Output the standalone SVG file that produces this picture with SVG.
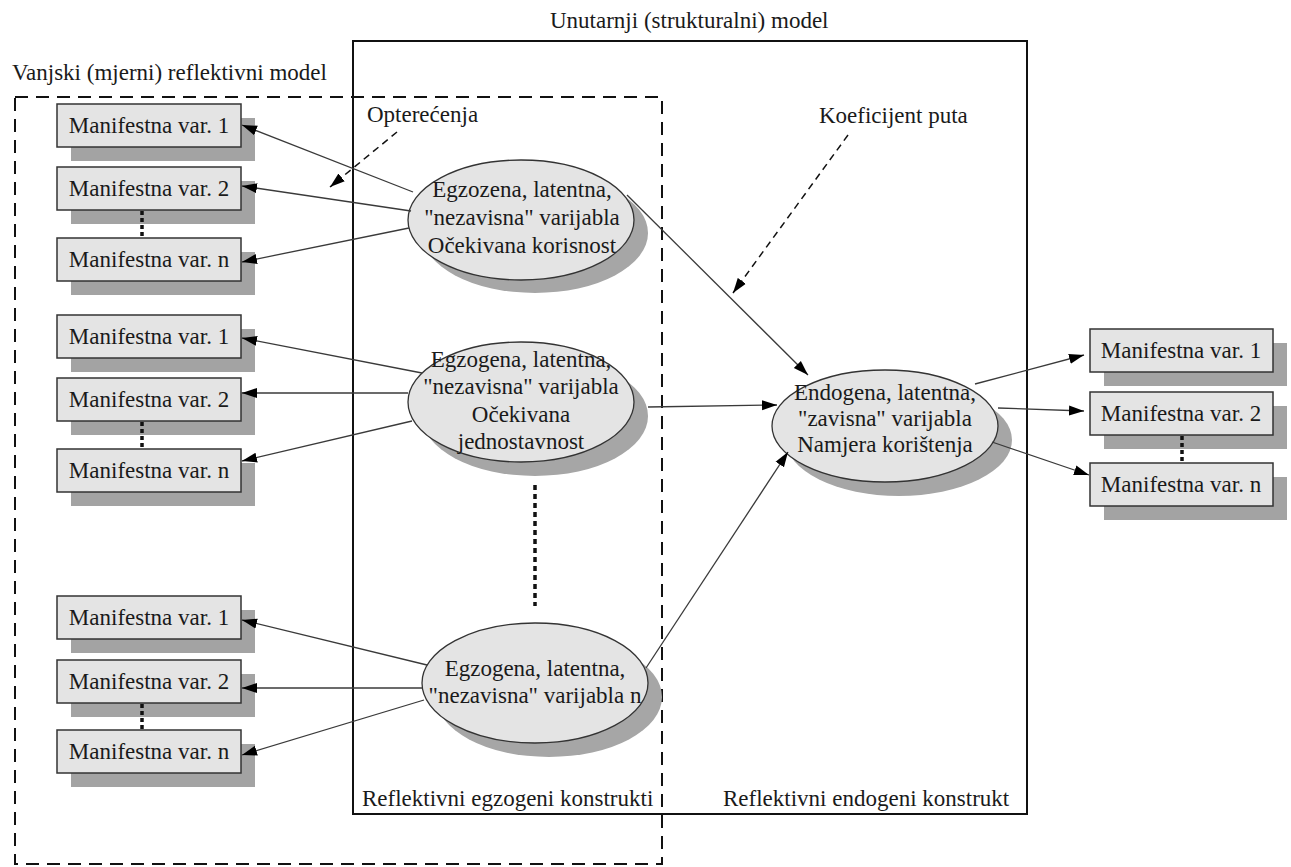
<svg xmlns="http://www.w3.org/2000/svg" width="1291" height="867" viewBox="0 0 1291 867">
<style>
text{font-family:"Liberation Serif","Times New Roman",serif;font-size:23px;fill:#1a1a1a}
.c{text-anchor:middle}
.box{fill:#e4e4e4;stroke:#333;stroke-width:1.5}
.bsh{fill:#a3a3a3}
.ell{fill:#e4e4e4;stroke:#333;stroke-width:1.3}
.esh{fill:#a6a6a6}
.frame{fill:none;stroke:#111;stroke-width:2}
.dframe{fill:none;stroke:#111;stroke-width:2;stroke-dasharray:13 8}
.conn{stroke:#3a3a3a;stroke-width:1.3;fill:none;marker-end:url(#ah)}
.dconn{stroke:#111;stroke-width:1.5;stroke-dasharray:7 5;fill:none;marker-end:url(#ah)}
.dots{stroke:#111;stroke-width:3.5;stroke-dasharray:4 3;fill:none}
</style>
<defs>
<marker id="ah" markerUnits="userSpaceOnUse" markerWidth="16" markerHeight="12" refX="15" refY="5" orient="auto" viewBox="0 0 16 10"><path d="M0,0 L15,5 L0,10 z" fill="#000"/></marker>
</defs>
<rect width="1291" height="867" fill="#fff"/>

<g id="frames">
<rect class="frame" x="353" y="41" width="674" height="773"/>
<rect class="dframe" x="15" y="97" width="647" height="767"/>
<text x="550" y="28">Unutarnji (strukturalni) model</text>
<text x="12" y="80">Vanjski (mjerni) reflektivni model</text>
<text x="367" y="122">Opterećenja</text>
<text x="819" y="123">Koeficijent puta</text>
<text x="362" y="806">Reflektivni egzogeni konstrukti</text>
<text x="723" y="806">Reflektivni endogeni konstrukt</text>
</g>

<g id="group1">
<rect class="bsh" x="71" y="118" width="184" height="43"/>
<rect class="box" x="57" y="104" width="184" height="43"/>
<text class="c" x="149" y="133">Manifestna var. 1</text>
<rect class="bsh" x="71" y="181" width="184" height="43"/>
<rect class="box" x="57" y="167" width="184" height="43"/>
<text class="c" x="149" y="196">Manifestna var. 2</text>
<rect class="bsh" x="71" y="252" width="184" height="43"/>
<rect class="box" x="57" y="238" width="184" height="43"/>
<text class="c" x="149" y="267">Manifestna var. n</text>
<line class="dots" x1="142" y1="211" x2="142" y2="238"/>
</g>

<g id="group2">
<rect class="bsh" x="71" y="329" width="184" height="43"/>
<rect class="box" x="57" y="315" width="184" height="43"/>
<text class="c" x="149" y="344">Manifestna var. 1</text>
<rect class="bsh" x="71" y="392" width="184" height="43"/>
<rect class="box" x="57" y="378" width="184" height="43"/>
<text class="c" x="149" y="407">Manifestna var. 2</text>
<rect class="bsh" x="71" y="463" width="184" height="43"/>
<rect class="box" x="57" y="449" width="184" height="43"/>
<text class="c" x="149" y="478">Manifestna var. n</text>
<line class="dots" x1="142" y1="422" x2="142" y2="449"/>
</g>

<g id="group3">
<rect class="bsh" x="71" y="610" width="184" height="43"/>
<rect class="box" x="57" y="596" width="184" height="43"/>
<text class="c" x="149" y="625">Manifestna var. 1</text>
<rect class="bsh" x="71" y="674" width="184" height="43"/>
<rect class="box" x="57" y="660" width="184" height="43"/>
<text class="c" x="149" y="689">Manifestna var. 2</text>
<rect class="bsh" x="71" y="744" width="184" height="43"/>
<rect class="box" x="57" y="730" width="184" height="43"/>
<text class="c" x="149" y="759">Manifestna var. n</text>
<line class="dots" x1="142" y1="704" x2="142" y2="730"/>
</g>

<g id="groupR">
<rect class="bsh" x="1104" y="343" width="183" height="43"/>
<rect class="box" x="1090" y="329" width="183" height="43"/>
<text class="c" x="1181" y="358">Manifestna var. 1</text>
<rect class="bsh" x="1104" y="406" width="183" height="43"/>
<rect class="box" x="1090" y="392" width="183" height="43"/>
<text class="c" x="1181" y="421">Manifestna var. 2</text>
<rect class="bsh" x="1104" y="477" width="183" height="43"/>
<rect class="box" x="1090" y="463" width="183" height="43"/>
<text class="c" x="1181" y="492">Manifestna var. n</text>
<line class="dots" x1="1182" y1="436" x2="1182" y2="463"/>
</g>

<g id="exo1">
<ellipse class="esh" cx="535" cy="233" rx="113" ry="60"/>
<ellipse class="ell" cx="521" cy="220" rx="113" ry="60"/>
<text class="c" x="522" y="197">Egzozena, latentna,</text>
<text class="c" x="522" y="225">"nezavisna" varijabla</text>
<text class="c" x="522" y="253">Očekivana korisnost</text>
</g>

<g id="exo2">
<ellipse class="esh" cx="535" cy="416" rx="113" ry="60"/>
<ellipse class="ell" cx="521" cy="402" rx="113" ry="60"/>
<text class="c" x="521" y="367">Egzogena, latentna,</text>
<text class="c" x="521" y="394">"nezavisna" varijabla</text>
<text class="c" x="521" y="422">Očekivana</text>
<text class="c" x="521" y="449">jednostavnost</text>
</g>

<line id="exo-dots" class="dots" x1="535" y1="485" x2="535" y2="606" style="stroke-dasharray:5 4"/>

<g id="exo3">
<ellipse class="esh" cx="549" cy="697" rx="113" ry="60"/>
<ellipse class="ell" cx="535" cy="683" rx="113" ry="60"/>
<text class="c" x="535" y="676">Egzogena, latentna,</text>
<text class="c" x="535" y="703">"nezavisna" varijabla n</text>
</g>

<g id="endo">
<ellipse class="esh" cx="899" cy="440" rx="113" ry="56"/>
<ellipse class="ell" cx="885" cy="426" rx="113" ry="56"/>
<text class="c" x="885" y="400">Endogena, latentna,</text>
<text class="c" x="885" y="426">"zavisna" varijabla</text>
<text class="c" x="885" y="452">Namjera korištenja</text>
</g>

<g id="connectors">
<line class="conn" x1="413" y1="192" x2="242" y2="125"/>
<line class="conn" x1="411" y1="211" x2="242" y2="186"/>
<line class="conn" x1="409" y1="228" x2="242" y2="262"/>
<line class="conn" x1="422" y1="373" x2="242" y2="338"/>
<line class="conn" x1="408" y1="393" x2="242" y2="393"/>
<line class="conn" x1="412" y1="421" x2="242" y2="461"/>
<line class="conn" x1="427" y1="665" x2="242" y2="620"/>
<line class="conn" x1="422" y1="688" x2="242" y2="688"/>
<line class="conn" x1="424" y1="700" x2="242" y2="755"/>
<line class="conn" x1="627" y1="195" x2="808" y2="375"/>
<line class="conn" x1="648" y1="407" x2="777" y2="405"/>
<line class="conn" x1="646" y1="668" x2="788" y2="452"/>
<line class="conn" x1="975" y1="384" x2="1084" y2="355"/>
<line class="conn" x1="998" y1="408" x2="1084" y2="411"/>
<line class="conn" x1="992" y1="442" x2="1089" y2="475"/>
<line class="dconn" x1="397" y1="132" x2="330" y2="187"/>
<line class="dconn" x1="848" y1="135" x2="733" y2="293"/>
</g>
</svg>
